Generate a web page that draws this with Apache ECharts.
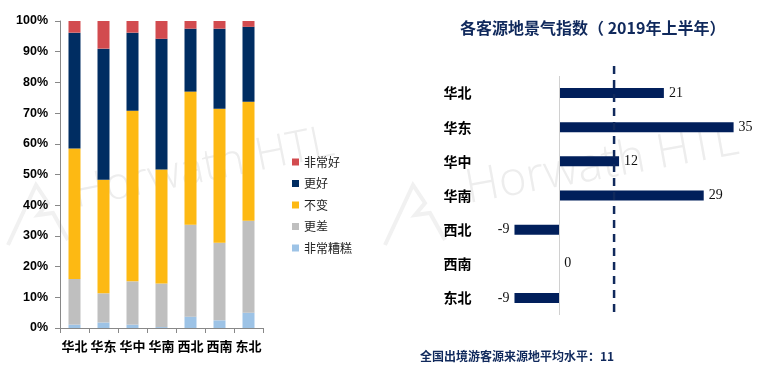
<!DOCTYPE html>
<html><head><meta charset="utf-8">
<script src="https://cdn.jsdelivr.net/npm/echarts@6/dist/echarts.min.js"></script>
<style>html,body{margin:0;padding:0;background:#fff}#c{width:780px;height:371px}</style>
</head><body><div id="c"></div>
<script>
// ---- data ----
const regions = ['华北', '华东', '华中', '华南', '西北', '西南', '东北'];
const legendOrder = ['非常好', '更好', '不变', '更差', '非常糟糕'];
const veryBad  = [1.1, 1.8, 1.1, 0.3, 3.7, 2.5, 5.0];
const worse    = [14.9, 9.5, 14.1, 14.2, 29.9, 25.3, 29.9];
const same     = [42.5, 37.0, 55.6, 37.1, 43.4, 43.6, 38.8];
const better   = [37.7, 42.7, 25.4, 42.6, 20.5, 26.1, 24.4];
const veryGood = [3.8, 9.0, 3.8, 5.8, 2.5, 2.5, 1.9];
const indexValues = [21, 35, 12, 29, -9, 0, -9];
const avgLevel = 11;
const titleText = '各客源地景气指数（ 2019年上半年）';
const footText = '全国出境游客源来源地平均水平：11';
const watermarkText = 'Horwath HTL';

const CJK = '"Noto Sans CJK SC", "Noto Sans", sans-serif';
const colors = {
  '非常糟糕': '#9DC3E6', '更差': '#BFBFBF', '不变': '#FDB913', '更好': '#002D62', '非常好': '#D24B4F'
};
const stackSeries = [
  ['非常糟糕', veryBad], ['更差', worse], ['不变', same], ['更好', better], ['非常好', veryGood]
].map(([name, data]) => ({
  name, type: 'bar', stack: 'pct', xAxisIndex: 0, yAxisIndex: 0,
  barWidth: 12, data, itemStyle: { color: colors[name] }, z: 3
}));

function mountain(x, y) {
  return {
    type: 'polyline', z: 0, silent: true,
    shape: { points: [[x, y + 60], [x + 28, y], [x + 40, y + 18], [x + 30, y + 30], [x + 45, y + 28], [x + 60, y + 55]] },
    style: { stroke: '#f1f1f1', lineWidth: 4, fill: null }
  };
}

const chart = echarts.init(document.getElementById('c'));
chart.setOption({
  animation: false,
  backgroundColor: '#fff',
  title: [
    { text: titleText, left: 455, top: 15,
      textStyle: { fontFamily: CJK, fontSize: 16, fontWeight: 'bold', color: '#10295C' } },
    { text: footText, left: 415, top: 345,
      textStyle: { fontFamily: CJK, fontSize: 12, fontWeight: 'bold', color: '#10295C' } }
  ],
  legend: {
    data: legendOrder, orient: 'vertical', left: 287, top: 151,
    itemWidth: 7, itemHeight: 7, itemGap: 9.5, icon: 'rect',
    textStyle: { fontFamily: CJK, fontSize: 12, color: '#222' }
  },
  graphic: [
    mountain(8, 185), mountain(385, 185),
    { type: 'text', z: 0, silent: true, x: 78, y: 217, rotation: 0.2,
      style: { text: watermarkText, font: '300 45px "Open Sans", sans-serif', fill: '#ededed', textVerticalAlign: 'bottom' } },
    { type: 'text', z: 0, silent: true, x: 470, y: 213, rotation: 0.18,
      style: { text: watermarkText, font: '300 47px "Open Sans", sans-serif', fill: '#ededed', textVerticalAlign: 'bottom' } }
  ],
  grid: [
    { left: 60, top: 21, width: 203, height: 307 },
    { left: 509.5, top: 76, width: 249, height: 239 },
    { left: 509.5, top: 65, width: 249, height: 247 }
  ],
  xAxis: [
    { type: 'category', gridIndex: 0, data: regions,
      axisLine: { lineStyle: { color: '#888', width: 1 } },
      axisTick: { show: true, length: 5, alignWithLabel: false, lineStyle: { color: '#888' } },
      axisLabel: { margin: 12, fontFamily: CJK, fontSize: 13, fontWeight: 'bold', color: '#000', interval: 0 } },
    { type: 'value', gridIndex: 1, min: -10, max: 40, show: false, splitLine: { show: false } },
    { type: 'value', gridIndex: 2, min: -10, max: 40, show: false, splitLine: { show: false } }
  ],
  yAxis: [
    { type: 'value', gridIndex: 0, min: 0, max: 100, interval: 10,
      axisLine: { show: true, lineStyle: { color: '#888' } },
      axisTick: { show: true, length: 5, lineStyle: { color: '#888' } },
      splitLine: { show: false },
      axisLabel: { formatter: '{value}%', margin: 12, fontFamily: '"Liberation Sans", Arial, sans-serif',
        fontSize: 12.5, fontWeight: 'bold', color: '#000' } },
    { type: 'category', gridIndex: 1, data: regions, inverse: true,
      axisLine: { show: false, onZero: false }, axisTick: { show: false },
      axisLabel: { margin: 38, fontFamily: CJK, fontSize: 14, fontWeight: 'bold', color: '#000' } },
    { type: 'value', gridIndex: 2, min: 0, max: 1, show: false, splitLine: { show: false } }
  ],
  series: stackSeries.concat([
    { name: 'index', type: 'bar', xAxisIndex: 1, yAxisIndex: 1, barWidth: 10,
      itemStyle: { color: '#011F5B' },
      data: indexValues.map(v => ({ value: v, label: { position: v < 0 ? 'left' : 'right' } })),
      label: { show: true, distance: 5, fontFamily: '"Liberation Serif", "Times New Roman", serif', fontSize: 14, color: '#111' },
      markLine: { silent: true, symbol: 'none', label: { show: false },
        lineStyle: { color: '#D0D0D0', type: 'solid', width: 1 },
        data: [{ xAxis: 0 }] },
      z: 3 },
    { name: 'avg', type: 'line', xAxisIndex: 2, yAxisIndex: 2, symbol: 'none',
      lineStyle: { color: '#10295C', width: 2.5, type: [8, 6] },
      data: [[avgLevel, 0], [avgLevel, 1]], z: 4 }
  ])
});
</script>
</body></html>
